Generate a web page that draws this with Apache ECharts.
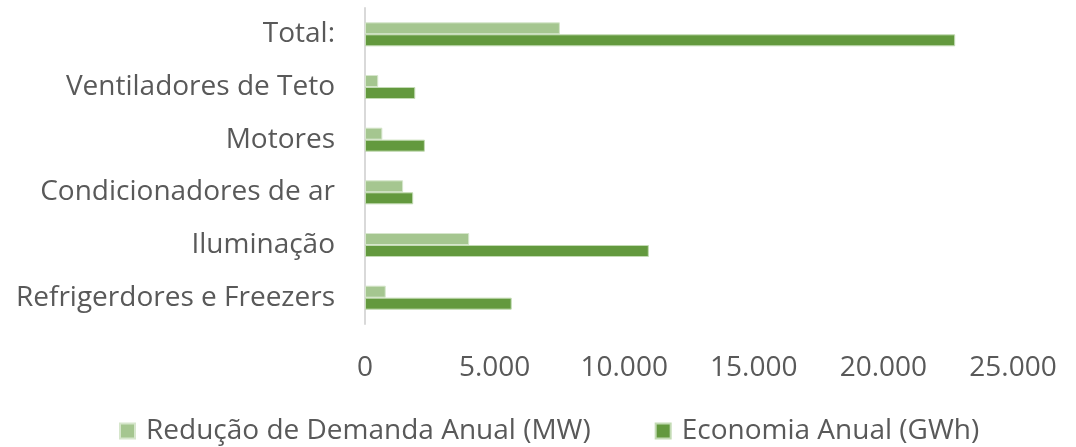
<!DOCTYPE html>
<html>
<head>
<meta charset="utf-8">
<script src="https://cdn.jsdelivr.net/npm/echarts@6/dist/echarts.min.js"></script>
<style>
  html, body { margin: 0; padding: 0; background: #fff; }
  #chart { width: 1076px; height: 447px; }
</style>
</head>
<body>
<div id="chart"></div>
<script>
// categorias (de baixo para cima)
const categories = ['Refrigerdores e Freezers', 'Iluminação', 'Condicionadores de ar', 'Motores', 'Ventiladores de Teto', 'Total:']
// Redução de Demanda Anual (MW)
const demanda = [800, 4020, 1470, 670, 510, 7520]
// Economia Anual (GWh)
const economia = [5660, 10950, 1860, 2310, 1940, 22770]
const seriesNames = ['Redução de Demanda Anual (MW)', 'Economia Anual (GWh)']

const font = 'Open Sans'
const textColor = '#595959'

let chart = echarts.init(document.getElementById('chart'))
let option = {
  animation: false,
  grid: {
    left: 365,
    right: 63,
    top: 8,
    bottom: 123
  },
  legend: {
    top: 412,
    left: 114,
    itemWidth: 15,
    itemHeight: 15,
    itemGap: 64,
    icon: 'rect',
    textStyle: {
      fontFamily: font,
      fontSize: 28,
      color: textColor,
      padding: [0, 0, 0, 6]
    },
    data: seriesNames
  },
  xAxis: {
    type: 'value',
    min: 0,
    max: 25000,
    interval: 5000,
    splitLine: { show: false },
    axisLine: { show: false },
    axisTick: { show: false },
    axisLabel: {
      fontFamily: font,
      fontSize: 28,
      color: textColor,
      margin: 30,
      formatter: v => v.toLocaleString('de-DE')
    }
  },
  yAxis: {
    type: 'category',
    data: categories,
    axisTick: { show: false },
    axisLine: { lineStyle: { color: '#d9d9d9', width: 2 } },
    axisLabel: {
      fontFamily: font,
      fontSize: 28,
      color: textColor,
      margin: 30
    }
  },
  series: [
    {
      name: seriesNames[0],
      type: 'bar',
      data: demanda,
      barWidth: 12,
      barGap: '0%',
      itemStyle: { color: '#a5c690', borderColor: '#d6e6cc', borderWidth: 1 }
    },
    {
      name: seriesNames[1],
      type: 'bar',
      data: economia,
      barWidth: 12,
      barGap: '0%',
      itemStyle: { color: '#63993e', borderColor: '#c3dbb4', borderWidth: 1 }
    }
  ]
}
chart.setOption(option)
</script>
</body>
</html>
